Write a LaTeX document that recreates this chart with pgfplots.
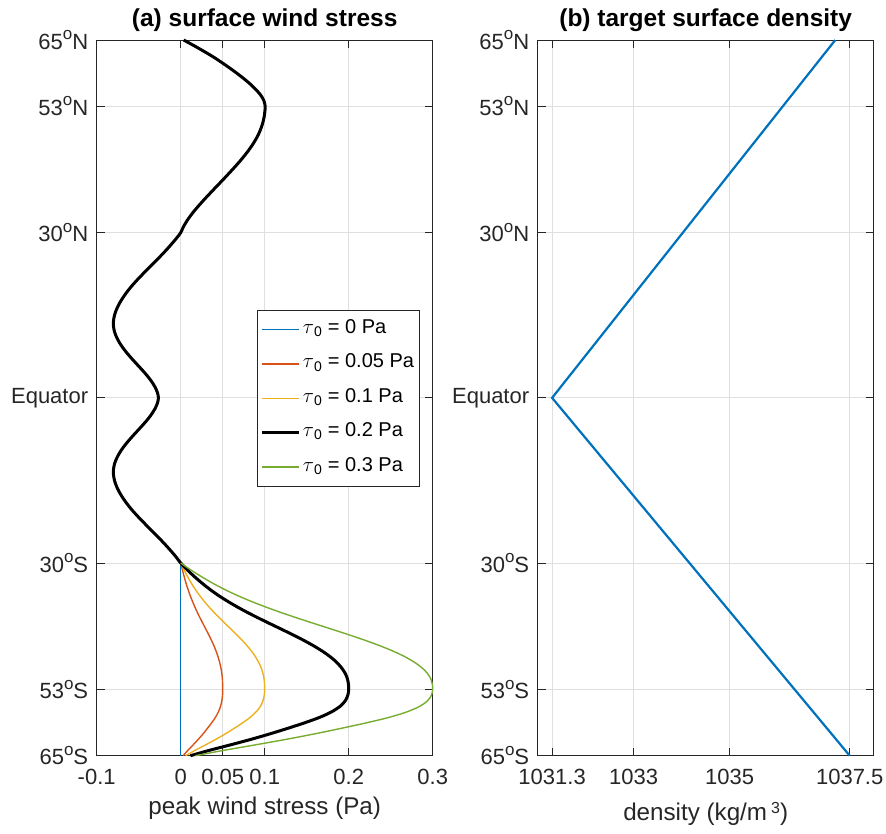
\documentclass[border=0pt]{standalone}
\usepackage{fontspec}
\setmainfont{Liberation Sans}
\usepackage{pgfplots}
\usepackage{pgfplotstable}
\pgfplotsset{compat=1.18}

\definecolor{mblue}{rgb}{0,0.447,0.741}
\definecolor{mred}{rgb}{0.850,0.325,0.098}
\definecolor{myellow}{rgb}{0.929,0.694,0.125}
\definecolor{mgreen}{rgb}{0.466,0.674,0.188}
\definecolor{axisgray}{rgb}{0.15,0.15,0.15}
\definecolor{gridgray}{rgb}{0.875,0.875,0.875}

% raised "o" used as the degree sign in latitude labels
\newcommand{\dg}{\raisebox{9.5pt}{\fontsize{17}{17}\selectfont o}}

% Southern-hemisphere wind stress for each peak value tau0 (Pa)
\pgfplotstableread{
lat  t005    t01     t02     t03
-30  0       0       0       0
-31  0.0016  0.0032  0.0063  0.0095
-32  0.0033  0.0065  0.0130  0.0196
-33  0.0051  0.0102  0.0203  0.0305
-34  0.0070  0.0140  0.0281  0.0421
-35  0.0092  0.0183  0.0366  0.0549
-36  0.0115  0.0230  0.0460  0.0690
-37  0.0141  0.0282  0.0564  0.0845
-38  0.0169  0.0338  0.0676  0.1014
-39  0.0199  0.0399  0.0797  0.1196
-40  0.0231  0.0463  0.0926  0.1389
-41  0.0265  0.0530  0.1060  0.1590
-42  0.0299  0.0598  0.1196  0.1794
-43  0.0333  0.0665  0.1330  0.1995
-44  0.0365  0.0729  0.1459  0.2188
-45  0.0395  0.0789  0.1578  0.2367
-46  0.0421  0.0843  0.1685  0.2528
-47  0.0444  0.0889  0.1778  0.2666
-48  0.0463  0.0927  0.1854  0.2780
-49  0.0478  0.0957  0.1913  0.2870
-50  0.0489  0.0978  0.1957  0.2935
-51  0.0496  0.0992  0.1984  0.2976
-52  0.0499  0.0998  0.1997  0.2995
-53  0.0500  0.1000  0.2000  0.3000
-54  0.0498  0.0995  0.1990  0.2985
-55  0.0490  0.0980  0.1960  0.2940
-56  0.0475  0.0950  0.1900  0.2850
-57  0.0450  0.0900  0.1800  0.2700
-58  0.0415  0.0830  0.1660  0.2490
-59  0.0370  0.0740  0.1480  0.2220
-60  0.0320  0.0640  0.1280  0.1920
-61  0.0268  0.0535  0.1070  0.1605
-62  0.0211  0.0422  0.0844  0.1266
-63  0.0150  0.0300  0.0600  0.0900
-64  0.0087  0.0174  0.0348  0.0522
-65  0.0029  0.0058  0.0116  0.0174
}\southtau

% Full profile for tau0 = 0.2 Pa, 65N to 65S
\pgfplotstableread{
lat  tau
65   0.0035
64   0.0155
63   0.0270
62   0.0380
61   0.0480
60   0.0575
59   0.0665
58   0.0750
57   0.0827
56   0.0895
55   0.0952
54   0.0990
53   0.1005
52   0.1002
51   0.0993
50   0.0978
49   0.0957
48   0.0930
47   0.0896
46   0.0856
45   0.0810
44   0.0760
43   0.0706
42   0.0648
41   0.0588
40   0.0527
39   0.0465
38   0.0402
37   0.0340
36   0.0279
35   0.0220
34   0.0164
33   0.0113
32   0.0068
31   0.0030
30   0.0000
29  -0.0050
28  -0.0105
27  -0.0163
26  -0.0224
25  -0.0288
24  -0.0353
23  -0.0418
22  -0.0482
21  -0.0543
20  -0.0600
19  -0.0651
18  -0.0696
17  -0.0735
16  -0.0766
15  -0.0788
14  -0.0800
13  -0.0800
12  -0.0788
11  -0.0763
10  -0.0728
9   -0.0684
8   -0.0632
7   -0.0575
6   -0.0515
5   -0.0455
4   -0.0398
3   -0.0348
2   -0.0307
1   -0.0278
0   -0.0265
-1  -0.0278
-2  -0.0307
-3  -0.0348
-4  -0.0398
-5  -0.0455
-6  -0.0515
-7  -0.0575
-8  -0.0632
-9  -0.0684
-10 -0.0728
-11 -0.0763
-12 -0.0788
-13 -0.0800
-14 -0.0800
-15 -0.0788
-16 -0.0766
-17 -0.0735
-18 -0.0696
-19 -0.0651
-20 -0.0600
-21 -0.0543
-22 -0.0482
-23 -0.0418
-24 -0.0353
-25 -0.0288
-26 -0.0224
-27 -0.0163
-28 -0.0105
-29 -0.0050
-30  0.0000
-31  0.0063
-32  0.0130
-33  0.0203
-34  0.0281
-35  0.0366
-36  0.0460
-37  0.0564
-38  0.0676
-39  0.0797
-40  0.0926
-41  0.1060
-42  0.1196
-43  0.1330
-44  0.1459
-45  0.1578
-46  0.1685
-47  0.1778
-48  0.1854
-49  0.1913
-50  0.1957
-51  0.1984
-52  0.1997
-53  0.2000
-54  0.1990
-55  0.1960
-56  0.1900
-57  0.1800
-58  0.1660
-59  0.1480
-60  0.1280
-61  0.1070
-62  0.0844
-63  0.0600
-64  0.0348
-65  0.0116
}\fulltau

% Target surface density profile
\pgfplotstableread{
rho     lat
1037.2  65
1031.3  0
1037.5  -65
}\density

\pgfplotsset{
  panel/.style={
    scale only axis, width=336pt, height=715.7pt,
    ymin=-65, ymax=65,
    ytick={-65,-53,-30,0,30,53,65},
    yticklabels={65\dg S,53\dg S,30\dg S,Equator,30\dg N,53\dg N,65\dg N},
    grid=major,
    major grid style={draw=gridgray, line width=0.8pt},
    axis line style={draw=axisgray, line width=0.9pt},
    every tick/.style={draw=axisgray, line width=0.9pt},
    tick align=inside, major tick length=8pt,
    tick label style={font=\fontsize{22}{26}\selectfont, text=axisgray},
    xticklabel style={anchor=base, yshift=-29pt},
    yticklabel style={anchor=east, xshift=-5pt},
    /pgf/number format/assume math mode=true,
    xlabel style={at={(axis description cs:0.5,0)}, anchor=base, yshift=-59pt,
      font=\fontsize{24.2}{28}\selectfont, text=axisgray},
    title style={at={(axis description cs:0.5,1)}, anchor=base, yshift=7pt,
      font=\bfseries\fontsize{24.5}{28}\selectfont},
    clip=false,
  },
}

\begin{document}
\begin{tikzpicture}
\path[use as bounding box] (0,0) rectangle (886pt,833pt);

\begin{axis}[panel, at={(96.7pt,77.3pt)}, anchor=south west,
  xmin=-0.1, xmax=0.3,
  xtick={-0.1,0,0.05,0.1,0.2,0.3},
  xticklabels={-0.1,0,0.05,0.1,0.2,0.3},
  xlabel={peak wind stress (Pa)},
  title={(a) surface wind stress},
  legend image code/.code={\draw[#1] (0pt,0pt) -- (37pt,0pt);},
  legend cell align=left,
  legend style={at={(0.962,0.623)}, anchor=north east,
    draw=axisgray, line width=0.8pt, fill=white,
    font=\fontsize{20}{24}\selectfont,
    inner xsep=3pt, inner ysep=2.1pt,
    nodes={inner xsep=2.5pt, inner ysep=7.2pt, text height=14pt, text depth=6pt, text=black},
  },
]
\addplot[mblue, line width=1.4pt] coordinates {(0,-30) (0,-65)};
\addlegendentry{\ensuremath{\tau}\textsubscript{0} = 0 Pa}
\addplot[mred, line width=1.4pt, smooth] table[x=t005, y=lat] {\southtau};
\addlegendentry{\ensuremath{\tau}\textsubscript{0} = 0.05 Pa}
\addplot[myellow, line width=1.4pt, smooth] table[x=t01, y=lat] {\southtau};
\addlegendentry{\ensuremath{\tau}\textsubscript{0} = 0.1 Pa}
\addplot[black, line width=3pt, smooth, line join=round] table[x=tau, y=lat] {\fulltau};
\addlegendentry{\ensuremath{\tau}\textsubscript{0} = 0.2 Pa}
\addplot[mgreen, line width=1.4pt, smooth] table[x=t03, y=lat] {\southtau};
\addlegendentry{\ensuremath{\tau}\textsubscript{0} = 0.3 Pa}
\end{axis}

\begin{axis}[panel, at={(537.7pt,77.3pt)}, anchor=south west,
  xmin=1031, xmax=1038,
  xtick={1031.3,1033,1035,1037.5},
  xticklabels={1031.3,1033,1035,1037.5},
  xlabel={density (kg/m\,\raisebox{7pt}{\fontsize{16}{16}\selectfont 3})},
  xlabel style={yshift=-6pt},
  title={(b) target surface density},
]
\addplot[mblue, line width=2.2pt, line join=miter] table[x=rho, y=lat] {\density};
\end{axis}
\end{tikzpicture}
\end{document}
